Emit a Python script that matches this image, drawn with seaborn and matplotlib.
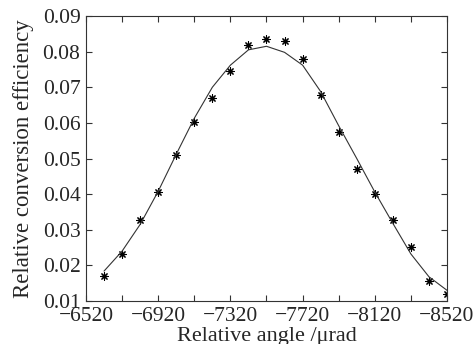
import matplotlib
matplotlib.use("Agg")
import matplotlib.pyplot as plt
import seaborn as sns
import pandas as pd

# measured data points
angle = [-6620, -6720, -6820, -6920, -7020, -7120, -7220, -7320, -7420, -7520,
         -7620, -7720, -7820, -7920, -8020, -8120, -8220, -8320, -8420, -8520]
efficiency = [0.0170, 0.0232, 0.0328, 0.0405, 0.0509, 0.0602, 0.0669, 0.0745, 0.0820, 0.0835,
              0.0831, 0.0778, 0.0677, 0.0573, 0.0471, 0.0401, 0.0328, 0.0252, 0.0157, 0.0120]
# fitted curve
fit_angle = angle
fit_eff = [0.0184, 0.0240, 0.0315, 0.0408, 0.0512, 0.0613, 0.0700, 0.0762, 0.0805, 0.0815,
           0.0798, 0.0762, 0.0688, 0.0592, 0.0500, 0.0406, 0.0318, 0.0232, 0.0168, 0.0130]

xticks = [-6520, -6720, -6920, -7120, -7320, -7520, -7720, -7920, -8120, -8320, -8520]
xticklabels = ["\u22126520", "", "\u22126920", "", "\u22127320", "", "\u22127720", "", "\u22128120", "", "\u22128520"]
yticks = [0.01, 0.02, 0.03, 0.04, 0.05, 0.06, 0.07, 0.08, 0.09]
yticklabels = ["0.01", "0.02", "0.03", "0.04", "0.05", "0.06", "0.07", "0.08", "0.09"]

sns.set_style("ticks")
plt.rcParams['font.family'] = ['Liberation Serif', 'DejaVu Serif']
plt.rcParams['axes.unicode_minus'] = True

fig = plt.figure(figsize=(4.74, 3.44), dpi=100)
ax = fig.add_axes([86/474, 1-301/344, (447-86)/474, (301-16)/344])

pts = pd.DataFrame({"angle": angle, "eff": efficiency})
fit = pd.DataFrame({"angle": fit_angle, "eff": fit_eff})

sns.lineplot(data=fit, x="angle", y="eff", ax=ax, color="#333333", linewidth=0.8, sort=False)
sns.scatterplot(data=pts, x="angle", y="eff", ax=ax, marker=(8, 2, 0), s=28,
                color="black", edgecolor="black", linewidth=0.8)

ax.set_xlim(-6520, -8520)
ax.set_ylim(0.01, 0.09)
ax.set_xticks(xticks)
ax.set_xticklabels(xticklabels)
ax.set_yticks(yticks)
ax.set_yticklabels(yticklabels)
ax.tick_params(direction="in", length=4, width=0.8, top=True, right=True,
               labelsize=15.5, color="#333333")
ax.tick_params(axis="x", pad=4)
ax.tick_params(axis="y", pad=4)
for s in ax.spines.values():
    s.set_linewidth(0.8)
    s.set_color("#333333")
    s.set_visible(True)

ax.set_xlabel("Relative angle /\u03bcrad", fontsize=16, labelpad=1)
ax.set_ylabel("Relative conversion efficiency", fontsize=16.5, labelpad=6)

fig.savefig("out.png", dpi=100)
